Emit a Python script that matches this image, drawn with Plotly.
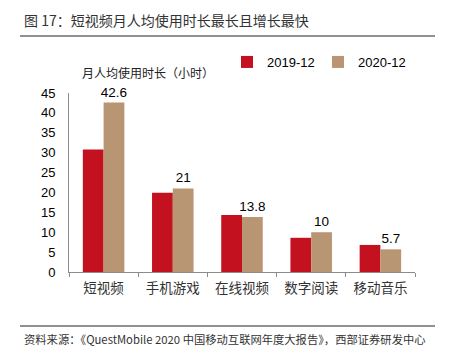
import plotly.graph_objects as go

categories = ["短视频", "手机游戏", "在线视频", "数字阅读", "移动音乐"]
series_names = ["2019-12", "2020-12"]
values_2019 = [30.8, 19.9, 14.3, 8.6, 6.8]
values_2020 = [42.6, 21, 13.8, 10, 5.7]
labels_2020 = ["42.6", "21", "13.8", "10", "5.7"]
y_ticks = [0, 5, 10, 15, 20, 25, 30, 35, 40, 45]

title_text = "图 17：短视频月人均使用时长最长且增长最快"
axis_title = "月人均使用时长（小时）"
source_text = "资料来源：《QuestMobile 2020 中国移动互联网年度大报告》，西部证券研发中心"

RED = "#C4111F"
TAN = "#B99673"
CJK = "Noto Sans CJK SC"
LAT = "Liberation Sans, Arial"

# page body has an 8px margin, so the figure is drawn 8px smaller and offset
OFF = 8
W, H = 451 - OFF, 359 - OFF
L, R, T, B = 69 - OFF, 36, 93 - OFF, 87
pw, ph = W - L - R, H - T - B


def px(x):
    return (x - OFF - L) / pw


def py(y):
    return (H - B - (y - OFF)) / ph


fig = go.Figure()
fig.add_trace(go.Bar(x=categories, y=values_2019, name=series_names[0],
                     marker=dict(color=RED, line=dict(width=0))))
fig.add_trace(go.Bar(x=categories, y=values_2020, name=series_names[1],
                     marker=dict(color=TAN, line=dict(width=0)),
                     text=labels_2020, textposition="outside", cliponaxis=False,
                     constraintext="none",
                     textfont=dict(family=LAT, size=13.5, color="#000")))

fig.update_layout(
    width=W, height=H,
    margin=dict(l=L, r=R, t=T, b=B, pad=0, autoexpand=False),
    paper_bgcolor="white", plot_bgcolor="white",
    barmode="group", bargap=0.4, bargroupgap=0,
    showlegend=True,
    legend=dict(orientation="h", x=px(227), y=py(62), xanchor="left", yanchor="middle",
                font=dict(family=LAT, size=13, color="#000"),
                itemwidth=30, entrywidth=46, entrywidthmode="pixels",
                bgcolor="rgba(0,0,0,0)", traceorder="normal"),
    xaxis=dict(type="category", showline=True, linecolor="#8c8c8c", linewidth=1,
               ticks="outside", tickson="boundaries", ticklen=4, tickcolor="#8c8c8c",
               tickfont=dict(family=CJK, size=13.5, color="#333"), showgrid=False,
               ticklabelstandoff=4),
    yaxis=dict(range=[0, 45], tickvals=y_ticks, showline=True, linecolor="#8c8c8c",
               linewidth=1, ticks="", showgrid=False, zeroline=False,
               tickfont=dict(family=LAT, size=13, color="#000"), ticklabelstandoff=10),
    font=dict(family=CJK),
)

fig.add_annotation(text=title_text, xref="paper", yref="paper", x=px(22), y=py(20),
                   xanchor="left", yanchor="middle", showarrow=False,
                   font=dict(family=CJK, size=14, color="#333"))
fig.add_annotation(text=axis_title, xref="paper", yref="paper", x=px(148), y=py(73),
                   xanchor="center", yanchor="middle", showarrow=False,
                   font=dict(family=CJK, size=12, color="#222"))
fig.add_annotation(text=source_text, xref="paper", yref="paper", x=px(22), y=py(339),
                   xanchor="left", yanchor="middle", showarrow=False,
                   font=dict(family=CJK, size=11.3, color="#333"))

fig.add_shape(type="line", xref="paper", yref="paper", x0=px(20), x1=px(435),
              y0=py(36), y1=py(36), line=dict(color="#222", width=1))
fig.add_shape(type="line", xref="paper", yref="paper", x0=px(20), x1=px(435),
              y0=py(326), y1=py(326), line=dict(color="#222", width=1))

fig.write_html("out.html")
